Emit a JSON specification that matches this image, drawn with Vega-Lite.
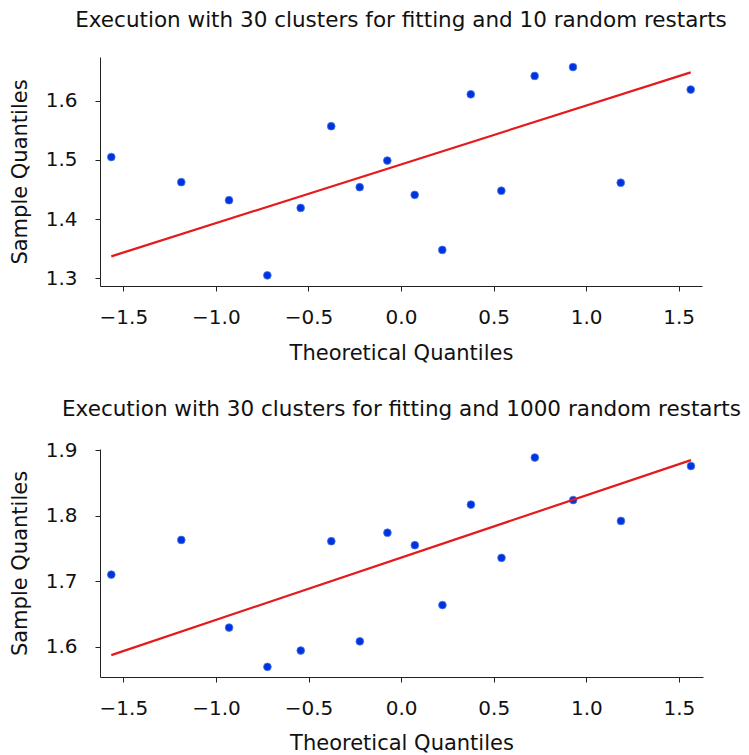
{
  "$schema": "https://vega.github.io/schema/vega-lite/v6.json",
  "background": "white",
  "padding": {"left": 9, "top": 9, "right": 0, "bottom": 0},
  "spacing": 36,
  "config": {
    "font": "DejaVu Sans",
    "view": {"stroke": null},
    "axis": {
      "grid": false,
      "domainColor": "#222222",
      "tickColor": "#222222",
      "tickSize": 5,
      "labelFontSize": 20,
      "labelColor": "#111111",
      "titleFontSize": 21,
      "titleFontWeight": "normal",
      "titleColor": "#111111",
      "labelPadding": 18
    },
    "title": {"fontSize": 21.5, "fontWeight": "normal", "color": "#111111", "offset": 26}
  },
  "datasets": {
    "top": [
      {"tq": -1.565, "sq": 1.505},
      {"tq": -1.187, "sq": 1.4625},
      {"tq": -0.929, "sq": 1.432},
      {"tq": -0.722, "sq": 1.305},
      {"tq": -0.542, "sq": 1.419},
      {"tq": -0.377, "sq": 1.557},
      {"tq": -0.223, "sq": 1.454},
      {"tq": -0.074, "sq": 1.499},
      {"tq": 0.074, "sq": 1.441},
      {"tq": 0.223, "sq": 1.348},
      {"tq": 0.377, "sq": 1.611},
      {"tq": 0.542, "sq": 1.448},
      {"tq": 0.722, "sq": 1.642},
      {"tq": 0.929, "sq": 1.657},
      {"tq": 1.187, "sq": 1.4615},
      {"tq": 1.565, "sq": 1.619}
    ],
    "topLine": [
      {"tq": -1.565, "sq": 1.337},
      {"tq": 1.565, "sq": 1.648}
    ],
    "bottom": [
      {"tq": -1.565, "sq": 1.710},
      {"tq": -1.187, "sq": 1.763},
      {"tq": -0.929, "sq": 1.629},
      {"tq": -0.722, "sq": 1.569},
      {"tq": -0.542, "sq": 1.594},
      {"tq": -0.377, "sq": 1.761},
      {"tq": -0.223, "sq": 1.608},
      {"tq": -0.074, "sq": 1.774},
      {"tq": 0.074, "sq": 1.755},
      {"tq": 0.223, "sq": 1.6635},
      {"tq": 0.377, "sq": 1.817},
      {"tq": 0.542, "sq": 1.7356},
      {"tq": 0.722, "sq": 1.889},
      {"tq": 0.929, "sq": 1.824},
      {"tq": 1.187, "sq": 1.792},
      {"tq": 1.565, "sq": 1.876}
    ],
    "bottomLine": [
      {"tq": -1.565, "sq": 1.587},
      {"tq": 1.565, "sq": 1.885}
    ]
  },
  "vconcat": [
    {
      "width": 602,
      "height": 229,
      "title": "Execution with 30 clusters for fitting and 10 random restarts",
      "layer": [
        {
          "data": {"name": "top"},
          "mark": {"type": "point", "filled": true, "size": 60, "color": "#0033dd", "opacity": 1, "stroke": "#4a7ae8", "strokeWidth": 0.8},
          "encoding": {
            "x": {"field": "tq", "type": "quantitative", "title": "Theoretical Quantiles",
                  "scale": {"domain": [-1.626, 1.626], "nice": false, "zero": false},
                  "axis": {"values": [-1.5, -1.0, -0.5, 0.0, 0.5, 1.0, 1.5], "format": ".1f", "labelPadding": 16, "titlePadding": 15}},
            "y": {"field": "sq", "type": "quantitative", "title": "Sample Quantiles",
                  "scale": {"domain": [1.287, 1.674], "nice": false, "zero": false},
                  "axis": {"values": [1.3, 1.4, 1.5, 1.6], "format": ".1f", "titlePadding": 15}}
          }
        },
        {
          "data": {"name": "topLine"},
          "mark": {"type": "line", "color": "#e41a1c", "strokeWidth": 2.2},
          "encoding": {
            "x": {"field": "tq", "type": "quantitative"},
            "y": {"field": "sq", "type": "quantitative"}
          }
        }
      ]
    },
    {
      "width": 603,
      "height": 228,
      "title": {"text": "Execution with 30 clusters for fitting and 1000 random restarts", "offset": 19.5},
      "layer": [
        {
          "data": {"name": "bottom"},
          "mark": {"type": "point", "filled": true, "size": 60, "color": "#0033dd", "opacity": 1, "stroke": "#4a7ae8", "strokeWidth": 0.8},
          "encoding": {
            "x": {"field": "tq", "type": "quantitative", "title": "Theoretical Quantiles",
                  "scale": {"domain": [-1.626, 1.63], "nice": false, "zero": false},
                  "axis": {"values": [-1.5, -1.0, -0.5, 0.0, 0.5, 1.0, 1.5], "format": ".1f", "labelPadding": 16, "titlePadding": 14}},
            "y": {"field": "sq", "type": "quantitative", "title": "Sample Quantiles",
                  "scale": {"domain": [1.5535, 1.902], "nice": false, "zero": false},
                  "axis": {"values": [1.6, 1.7, 1.8, 1.9], "format": ".1f", "titlePadding": 15}}
          }
        },
        {
          "data": {"name": "bottomLine"},
          "mark": {"type": "line", "color": "#e41a1c", "strokeWidth": 2.2},
          "encoding": {
            "x": {"field": "tq", "type": "quantitative"},
            "y": {"field": "sq", "type": "quantitative"}
          }
        }
      ]
    }
  ]
}
